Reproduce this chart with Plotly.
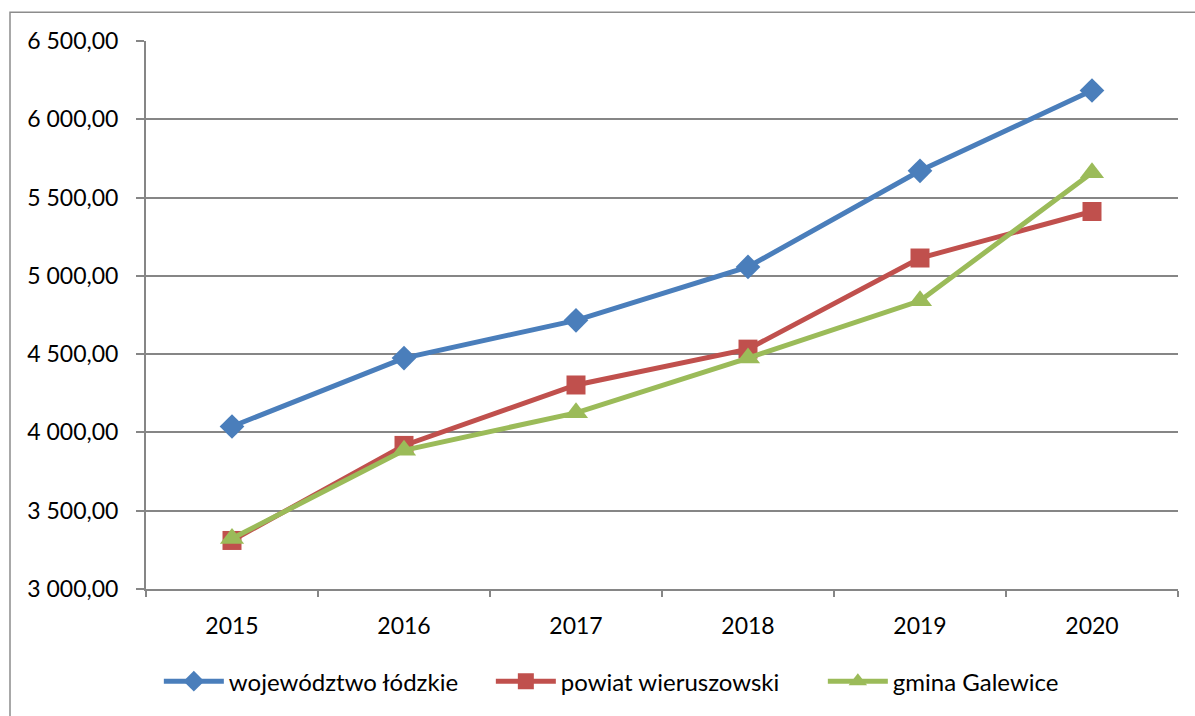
import plotly.graph_objects as go

years = ["2015", "2016", "2017", "2018", "2019", "2020"]
lodzkie = [4038, 4475, 4716, 5057, 5671, 6184]
wieruszowski = [3310, 3917, 4303, 4532, 5114, 5411]
galewice = [3322, 3886, 4125, 4475, 4841, 5659]

names = ["województwo łódzkie", "powiat wieruszowski", "gmina Galewice"]
colors = ["#4A7EBB", "#C0504D", "#9BBB59"]
symbols = ["diamond", "square", "triangle-up"]
sizes = [19, 19, 21]

fig = go.Figure()
for name, vals, col, sym, sz in zip(names, [lodzkie, wieruszowski, galewice], colors, symbols, sizes):
    fig.add_trace(go.Scatter(
        x=years, y=vals, name=name, mode="lines+markers",
        line=dict(color=col, width=5),
        marker=dict(symbol=sym, size=sz, color=col, line=dict(width=0)),
    ))

font_family = "Lato, Carlito, Calibri, sans-serif"
fig.update_layout(
    width=1195, height=716,
    margin=dict(l=146, r=17, t=41, b=124),
    paper_bgcolor="white", plot_bgcolor="white",
    separators=", ",
    font=dict(family=font_family, size=23, color="black"),
    showlegend=True,
    legend=dict(orientation="h", x=0.495, xanchor="center", y=-0.169, yanchor="middle",
                font=dict(size=24), itemwidth=60, entrywidth=257, tracegroupgap=0),
    xaxis=dict(type="category", range=[-0.5, 5.5], showgrid=False,
               showline=True, linecolor="#868686", linewidth=2,
               ticks="outside", tickson="boundaries", ticklen=6, tickcolor="#868686", tickwidth=2,
               ticklabelstandoff=15, tickfont=dict(size=23)),
    yaxis=dict(range=[3000, 6500], dtick=500, tickformat=",.2f",
               showgrid=True, gridcolor="#868686", gridwidth=2,
               showline=True, linecolor="#868686", linewidth=2,
               ticks="outside", ticklen=8, tickcolor="#868686", tickwidth=2,
               ticklabelstandoff=13, zeroline=False, tickfont=dict(size=23)),
    shapes=[dict(type="rect", xref="paper", yref="paper",
                 x0=(10 - 146) / 1032, x1=1.2, y0=-0.6, y1=1 + (41 - 12) / 551,
                 line=dict(color="#8C8C8C", width=1.5), fillcolor="rgba(0,0,0,0)", layer="below")],
)

fig.write_html("out.html", config={"displayModeBar": False},
               post_script="document.body.style.margin='0';document.body.style.padding='0';document.documentElement.style.overflow='hidden';")
